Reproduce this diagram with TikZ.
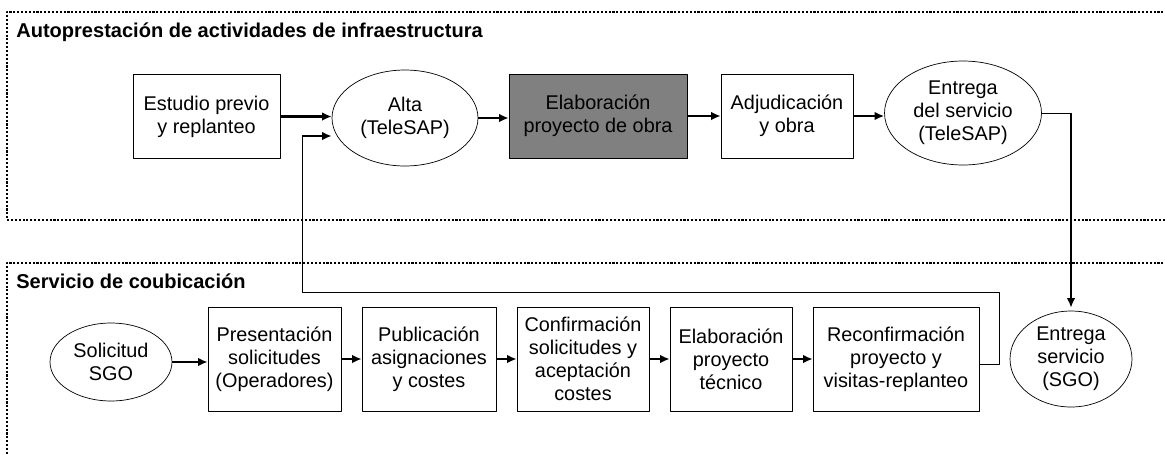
\documentclass[tikz,border=0pt]{standalone}
\usepackage{fontspec}
\setmainfont{Liberation Sans}
\usetikzlibrary{shapes.geometric,arrows.meta}
\begin{document}
\begin{tikzpicture}[x=0.02cm,y=-0.02cm,>={Latex[length=5.5pt,width=5pt]},line join=round,
	font=\fontsize{11.3}{13.1}\selectfont]
	\tikzset{box/.style={draw,thin,align=center,inner sep=1pt,minimum height=1.68cm},
		oval/.style={draw,thin,ellipse,align=center,inner sep=0pt},
		arr/.style={->,line width=1.4pt},
		frame/.style={densely dotted,line width=1.2pt},
		title/.style={anchor=base west,inner sep=0pt,font=\fontsize{11.4}{13}\selectfont\bfseries}}
	\useasboundingbox (0,0) rectangle (1165,454);
	\draw[frame] (1175,12) -- (7,12) -- (7,220) -- (1175,220);
	\draw[frame] (1175,263) -- (7,263) -- (7,465);
	\node[title] (tit1) at (16,37) {Autoprestación de actividades de infraestructura};
	\node[title] (tit2) at (16,288) {Servicio de coubicación};
	\node[box,minimum width=2.94cm] (estudio) at (206.5,116.5) {Estudio previo\\y replanteo};
	\node[oval,minimum width=2.92cm,minimum height=1.92cm] (alta) at (405,118) {Alta\\(TeleSAP)};
	\node[box,fill=black!50,minimum width=3.56cm] (obra) at (598,116) {Elaboración\\proyecto de obra};
	\node[box,minimum width=2.64cm] (adjud) at (787,116) {Adjudicación\\y obra};
	\node[oval,minimum width=3.14cm,minimum height=2.08cm] (entregaT) at (963,113) {Entrega\\del servicio\\(TeleSAP)};
	\node[oval,minimum width=2.44cm,minimum height=1.56cm] (solicitud) at (111,362) {Solicitud\\SGO};
	\node[box,minimum width=2.66cm,minimum height=2.08cm] (present) at (274.5,359) {Presentación\\solicitudes\\(Operadores)};
	\node[box,minimum width=2.68cm,minimum height=2.08cm] (public) at (429,359) {Publicación\\asignaciones\\y costes};
	\node[box,minimum width=2.64cm,minimum height=2.08cm] (confirm) at (583,359) {Confirmación\\solicitudes y\\aceptación\\costes};
	\node[box,minimum width=2.44cm,minimum height=2.08cm] (elabtec) at (731,359) {Elaboración\\proyecto\\técnico};
	\node[box,minimum width=3.32cm,minimum height=2.08cm] (reconf) at (896,359) {Reconfirmación\\proyecto y\\visitas-replanteo};
	\node[oval,minimum width=2.44cm,minimum height=1.92cm] (entregaS) at (1071,359) {Entrega\\servicio\\(SGO)};
	\coordinate (ret) at (999,292);
	\coordinate (fb) at (302,136);
	\draw[arr] (estudio.east) -- (estudio.east -| alta.west);
	\draw[arr] (alta.east) -- (alta.east -| obra.west);
	\draw[arr] (obra.east) -- (adjud.west);
	\draw[arr] (adjud.east) -- (adjud.east -| entregaT.west);
	\draw[thin] ([yshift=-0.1cm]reconf.east) -| (ret) -| (fb);
	\draw[arr] (fb) -- (alta.west |- fb);
	\draw[thin] (entregaT.east) -- (entregaT.east -| entregaS.north);
	\draw[arr] (entregaT.east -| entregaS.north) -- ([yshift=0.06cm]entregaS.north);
	\draw[arr] (solicitud.east) -- (solicitud.east -| present.west);
	\draw[arr] (present) -- (public);
	\draw[arr] (public) -- (confirm);
	\draw[arr] (confirm) -- (elabtec);
	\draw[arr] (elabtec) -- (reconf);
\end{tikzpicture}
\end{document}
